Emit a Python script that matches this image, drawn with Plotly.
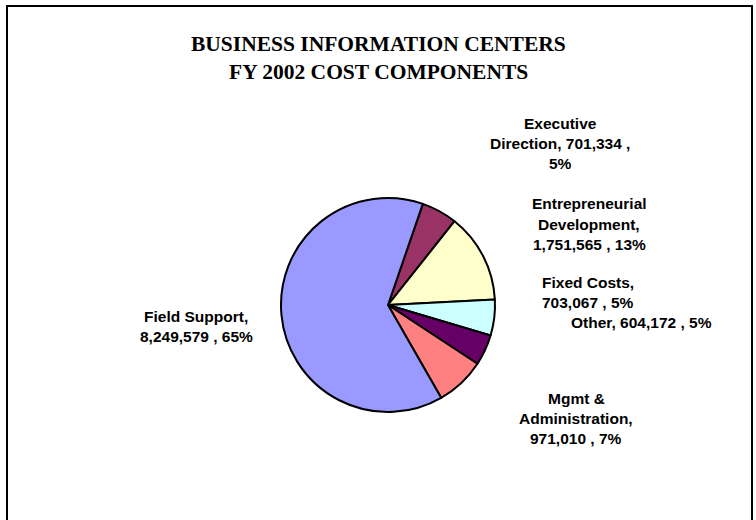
import plotly.graph_objects as go

W, H = 756, 520

# FY 2002 cost components
categories = ["Executive Direction", "Entrepreneurial Development", "Fixed Costs",
              "Other", "Mgmt & Administration", "Field Support"]
costs = [701334, 1751565, 703067, 604172, 971010, 8249579]
pct_labels = ["5%", "13%", "5%", "5%", "7%", "65%"]
colors = ["#993366", "#FFFFCC", "#CCFFFF", "#660066", "#FF8080", "#9999FF"]

# label text split into display lines
label_lines = [
    ["Executive", "Direction, 701,334 ,", "5%"],
    ["Entrepreneurial", "Development,", "1,751,565 , 13%"],
    ["Fixed Costs,", "703,067 , 5%"],
    ["Other, 604,172 , 5%"],
    ["Mgmt &", "Administration,", "971,010 , 7%"],
    ["Field Support,", "8,249,579 , 65%"],
]
# pixel anchor (center x, first line y) of each label block
label_pos = [(560, 123), (589, 204), (588, 282), (641, 322), (576, 398), (196, 316)]
line_step = 20

title_lines = ["BUSINESS INFORMATION CENTERS", "FY 2002 COST COMPONENTS"]

cx, cy, r = 388, 305, 107

fig = go.Figure(go.Pie(
    labels=categories,
    values=costs,
    sort=False,
    direction="clockwise",
    rotation=19,
    marker=dict(colors=colors, line=dict(color="black", width=2)),
    textinfo="none",
    hoverinfo="label+value+percent",
    showlegend=False,
    domain=dict(x=[(cx - r) / W, (cx + r) / W],
                y=[1 - (cy + r) / H, 1 - (cy - r) / H]),
))

annotations = []
for i, t in enumerate(title_lines):
    annotations.append(dict(
        text="<b>" + t + "</b>", x=378 / W, y=1 - (44 + 28 * i) / H,
        xref="paper", yref="paper",
        xanchor="center", yanchor="middle", showarrow=False,
        font=dict(family="Liberation Serif", size=21.5, color="black"),
    ))
for lines, (lx, ly) in zip(label_lines, label_pos):
    for j, t in enumerate(lines):
        annotations.append(dict(
            text="<b>" + t + "</b>", x=lx / W, y=1 - (ly + line_step * j) / H,
            xref="paper", yref="paper", xanchor="center", yanchor="middle",
            showarrow=False,
            font=dict(family="Liberation Sans", size=15.5, color="black"),
        ))

fig.update_layout(
    width=W, height=H,
    margin=dict(l=0, r=0, t=0, b=0),
    paper_bgcolor="white",
    plot_bgcolor="white",
    annotations=annotations,
    shapes=[dict(type="rect", xref="paper", yref="paper",
                 x0=7 / W, x1=752 / W, y0=-0.1, y1=1 - 6 / H,
                 line=dict(color="black", width=2), fillcolor="rgba(0,0,0,0)")],
)

fig.write_html("out.html")
